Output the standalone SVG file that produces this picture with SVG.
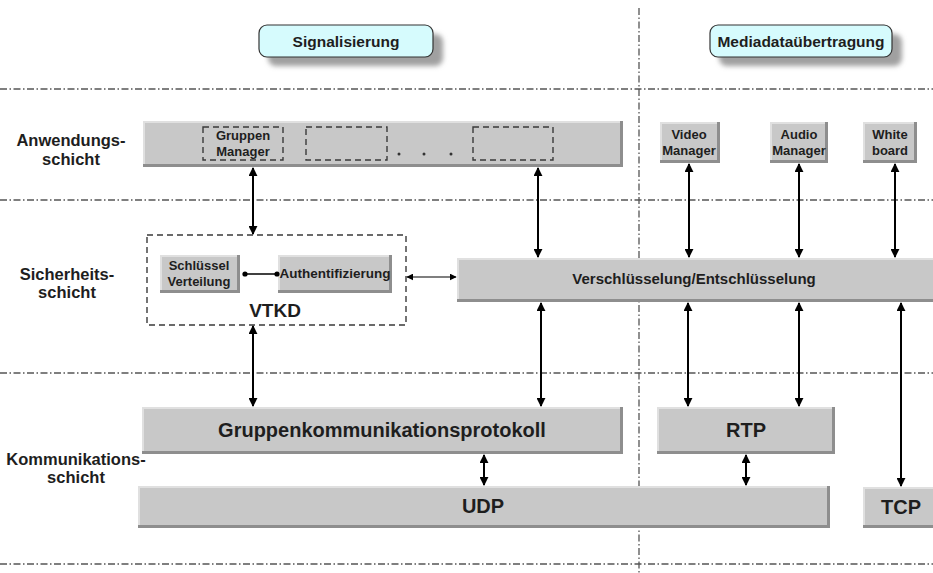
<svg xmlns="http://www.w3.org/2000/svg" width="933" height="573" viewBox="0 0 933 573">
<defs>
<style>
text{font-family:"Liberation Sans",Arial,sans-serif;font-weight:bold;fill:#1e1e1e;text-anchor:middle}
.grid{stroke:#555;stroke-width:1.3;stroke-dasharray:7 2.5 1.5 2.5;fill:none}
.lbl{font-size:16.5px}
.hdr{font-size:15.5px}
.sm{font-size:13px}
.big{font-size:20px}
.mid{font-size:15px}
.dash{fill:none;stroke:#3a3a3a;stroke-width:1.4;stroke-dasharray:6 4}
.arr{stroke:#000;stroke-width:2;fill:none;marker-start:url(#ah);marker-end:url(#ah)}
.arrt{stroke:#000;stroke-width:1.2;fill:none;marker-start:url(#ahs);marker-end:url(#ahs)}
.pill{fill:#d6fbfd;stroke:#333;stroke-width:1.2}
.sh{fill:#a0a0a0;filter:url(#blur)}
.b0{fill:#8e8e8e}.b1{fill:#e0e0e0}.b2{fill:#c8c8c8}
</style>
<filter id="blur" x="-10%" y="-30%" width="120%" height="160%"><feGaussianBlur stdDeviation="2.5"/></filter>
<marker id="ah" viewBox="0 0 10 10" refX="9" refY="5" markerWidth="9" markerHeight="9" markerUnits="userSpaceOnUse" orient="auto-start-reverse"><path d="M0,0 L10,5 L0,10 z" fill="#000"/></marker>
<marker id="ahs" viewBox="0 0 10 10" refX="9" refY="5" markerWidth="7" markerHeight="7" markerUnits="userSpaceOnUse" orient="auto-start-reverse"><path d="M0,0 L10,5 L0,10 z" fill="#000"/></marker>
</defs>

<g id="gridlines">
<line class="grid" x1="0" y1="89" x2="933" y2="89"/>
<line class="grid" x1="0" y1="200" x2="933" y2="200"/>
<line class="grid" x1="0" y1="373" x2="933" y2="373"/>
<line class="grid" x1="0" y1="564" x2="933" y2="564"/>
<line class="grid" x1="639" y1="8" x2="639" y2="573"/>
</g>

<g id="hdr-signal">
<rect class="sh" x="268" y="34" width="175" height="32" rx="8"/>
<rect class="pill" x="259" y="25" width="174" height="32" rx="8"/>
<text class="hdr" x="346" y="47">Signalisierung</text>
</g>
<g id="hdr-media">
<rect class="sh" x="719" y="34" width="183" height="32" rx="8"/>
<rect class="pill" x="710" y="25" width="182" height="32" rx="8"/>
<text class="hdr" x="801" y="47">Mediadataübertragung</text>
</g>

<g id="layer-labels">
<text class="lbl" x="71" y="146">Anwendungs-</text>
<text class="lbl" x="71" y="165">schicht</text>
<text class="lbl" x="67" y="280">Sicherheits-</text>
<text class="lbl" x="67" y="298">schicht</text>
<text class="lbl" x="76" y="465">Kommunikations-</text>
<text class="lbl" x="76" y="483">schicht</text>
</g>

<g id="app-bar">
<rect class="b0" x="143" y="121" width="480" height="46"/>
<rect class="b1" x="143" y="121" width="477" height="43"/>
<rect class="b2" x="145" y="123" width="475" height="41"/>
<rect class="dash" x="203" y="127" width="80" height="33"/>
<text class="sm" x="243" y="140">Gruppen</text>
<text class="sm" x="243" y="156">Manager</text>
<rect class="dash" x="306" y="127" width="81" height="33"/>
<circle cx="399" cy="154" r="1.5" fill="#333"/>
<circle cx="424" cy="154" r="1.5" fill="#333"/>
<circle cx="451" cy="154" r="1.5" fill="#333"/>
<rect class="dash" x="473" y="127" width="80" height="33"/>
</g>

<g id="video-manager">
<rect class="b0" x="660" y="122" width="60" height="41"/>
<rect class="b1" x="660" y="122" width="57" height="38"/>
<rect class="b2" x="662" y="124" width="55" height="36"/>
<text class="sm" x="689" y="139">Video</text>
<text class="sm" x="689" y="155">Manager</text>
</g>
<g id="audio-manager">
<rect class="b0" x="770" y="122" width="58" height="41"/>
<rect class="b1" x="770" y="122" width="55" height="38"/>
<rect class="b2" x="772" y="124" width="53" height="36"/>
<text class="sm" x="799" y="139">Audio</text>
<text class="sm" x="799" y="155">Manager</text>
</g>
<g id="whiteboard">
<rect class="b0" x="863" y="122" width="54" height="41"/>
<rect class="b1" x="863" y="122" width="51" height="38"/>
<rect class="b2" x="865" y="124" width="49" height="36"/>
<text class="sm" x="890" y="139">White</text>
<text class="sm" x="890" y="155">board</text>
</g>

<g id="vtkd">
<rect class="dash" x="147" y="235" width="259" height="90"/>
<text x="275" y="317" style="font-size:19px">VTKD</text>
</g>
<g id="schluessel">
<rect class="b0" x="160" y="255" width="80" height="38"/>
<rect class="b1" x="160" y="255" width="77" height="35"/>
<rect class="b2" x="162" y="257" width="75" height="33"/>
<text class="sm" x="199" y="270">Schlüssel</text>
<text class="sm" x="199" y="286">Verteilung</text>
</g>
<g id="auth">
<rect class="b0" x="278" y="255" width="114" height="38"/>
<rect class="b1" x="278" y="255" width="111" height="35"/>
<rect class="b2" x="280" y="257" width="109" height="33"/>
<text style="font-size:13.5px" x="335" y="278">Authentifizierung</text>
</g>

<g id="verschl">
<rect class="b0" x="457" y="258" width="476" height="44"/>
<rect class="b1" x="457" y="258" width="476" height="41"/>
<rect class="b2" x="459" y="260" width="474" height="39"/>
<text class="mid" x="694" y="284">Verschlüsselung/Entschlüsselung</text>
</g>

<g id="gruppenkomm">
<rect class="b0" x="142" y="407" width="481" height="47"/>
<rect class="b1" x="142" y="407" width="478" height="44"/>
<rect class="b2" x="144" y="409" width="476" height="42"/>
<text class="big" x="382" y="437">Gruppenkommunikationsprotokoll</text>
</g>
<g id="rtp">
<rect class="b0" x="657" y="407" width="178" height="47"/>
<rect class="b1" x="657" y="407" width="175" height="44"/>
<rect class="b2" x="659" y="409" width="173" height="42"/>
<text class="big" x="746" y="437">RTP</text>
</g>
<g id="udp">
<rect class="b0" x="138" y="486" width="692" height="42"/>
<rect class="b1" x="138" y="486" width="689" height="39"/>
<rect class="b2" x="140" y="488" width="687" height="37"/>
<text class="big" x="483" y="513">UDP</text>
</g>
<g id="tcp">
<rect class="b0" x="863" y="487" width="70" height="41"/>
<rect class="b1" x="863" y="487" width="70" height="38"/>
<rect class="b2" x="865" y="489" width="68" height="36"/>
<text class="big" x="901" y="514">TCP</text>
</g>

<g id="connectors">
<line class="arr" x1="253" y1="168" x2="253" y2="234"/>
<line class="arr" x1="538" y1="168" x2="538" y2="257"/>
<line class="arr" x1="689" y1="164" x2="689" y2="257"/>
<line class="arr" x1="799" y1="164" x2="799" y2="257"/>
<line class="arr" x1="895" y1="164" x2="895" y2="257"/>
<line class="arr" x1="253" y1="326" x2="253" y2="406"/>
<line class="arr" x1="541" y1="303" x2="541" y2="406"/>
<line class="arr" x1="688" y1="303" x2="688" y2="406"/>
<line class="arr" x1="799" y1="303" x2="799" y2="406"/>
<line class="arr" x1="901" y1="303" x2="901" y2="486"/>
<line class="arr" x1="484" y1="455" x2="484" y2="485"/>
<line class="arr" x1="746" y1="455" x2="746" y2="485"/>
<line class="arrt" x1="407" y1="277" x2="456" y2="277"/>
<line x1="244" y1="274" x2="278" y2="274" stroke="#000" stroke-width="1.4"/>
<circle cx="245" cy="274" r="2.6" fill="#000"/>
<circle cx="277" cy="274" r="2.6" fill="#000"/>
</g>
</svg>
